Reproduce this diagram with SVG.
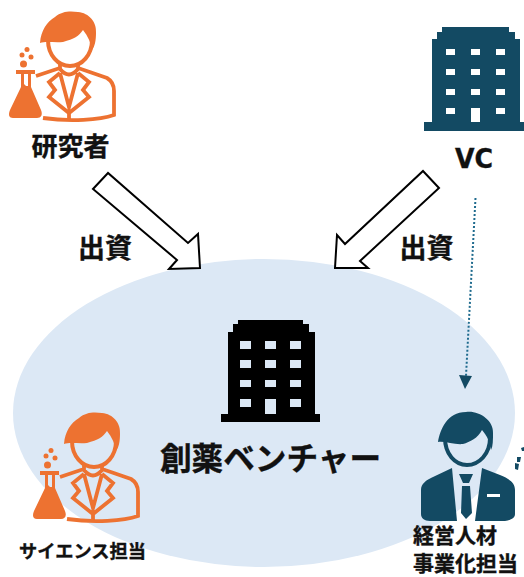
<svg xmlns="http://www.w3.org/2000/svg" width="524" height="577" viewBox="0 0 524 577">
<style>
text{font-family:"Noto Sans CJK JP","DejaVu Sans",sans-serif;font-weight:700;fill:#111;stroke:#111;stroke-width:.35}
.arrow{fill:#fff;stroke:#000;stroke-width:2;stroke-linejoin:miter}
.orange{color:#ed7231}
</style>
<defs>
<g id="sci">
<path fill="currentColor" d="M40 43C41 30 47 22 55 17C62 11 70 11 78 12C89 13 97 22 96 33C96 40 95 46 92 50C91 43 88 36 83 30C79 36 74 39 63 42C55 43 46 41 40 43Z"/>
<path fill="none" stroke="currentColor" stroke-width="4" d="M48 40C48 55 58 66 70 66C82 66 92 55 92 40"/>
<path fill="none" stroke="currentColor" stroke-width="3.800" stroke-linejoin="miter" stroke-linecap="butt" d="M36 76L60 68V63M78 63V68L107 78C112 81 114 85 114 91V115C100 120 70 122 43 118M60 69Q69 80 78 69M60 73L49 82L55 90L49 97L69 113L89 97L83 90L89 82L78 73M60 73L69 107L78 73M69 113V120"/>
<path fill="currentColor" fill-rule="evenodd" d="M16 70H35V74H31V87L41 110C43 115 41 118 37 118H13C9 118 8 115 10 110L21 87V74H16ZM24 74V84L26 86H28V74Z"/>
<circle fill="currentColor" cx="23.500" cy="64" r="3.500"/>
<circle fill="currentColor" cx="22" cy="55" r="2.500"/>
<circle fill="currentColor" cx="31" cy="57" r="2.500"/>
<circle fill="currentColor" cx="27" cy="49.500" r="2.500"/>
</g>
</defs>
<ellipse cx="264" cy="413" rx="251" ry="154" fill="#dce8f5"/>
<g id="researcher" class="orange"><use href="#sci"/><text x="70.500" y="156" font-size="26" text-anchor="middle">研究者</text></g>
<g id="vc"><path fill="#134a63" fill-rule="evenodd" d="M442 27H509V32H515V39H520V122H524V131H424V122H432V39H437V32H442ZM446 49V55H455V49ZM471 49V55H480V49ZM496 49V55H505V49ZM446 69V75H455V69ZM471 69V75H480V69ZM496 69V75H505V69ZM446 89V95H455V89ZM471 89V95H480V89ZM496 89V95H505V89ZM446 108V114H455V108ZM471 108V122H480V108ZM496 108V114H505V108Z"/><text x="474" y="168" font-size="26" text-anchor="middle" textLength="38" lengthAdjust="spacingAndGlyphs" style="font-family:'DejaVu Sans',sans-serif">VC</text></g>
<g id="venture"><path fill="#000" fill-rule="evenodd" d="M238 320H303V324H309V332H315V414H320V422H221V414H228V332H233V324H238ZM240 341V349H251V341ZM265 341V349H276V341ZM290 341V349H301V341ZM240 360V368H251V360ZM265 360V368H276V360ZM290 360V368H301V360ZM240 380V387H251V380ZM265 380V387H276V380ZM290 380V387H301V380ZM240 399V407H251V399ZM265 399V414H276V399ZM290 399V407H301V399Z"/><text x="160" y="470" font-size="32" textLength="221" lengthAdjust="spacingAndGlyphs">創薬ベンチャー</text></g>
<g id="science" class="orange"><use href="#sci" transform="translate(24 401)"/><text x="19" y="558" font-size="18" textLength="127" lengthAdjust="spacingAndGlyphs">サイエンス担当</text></g>
<g id="manager">
<path fill="#134a63" d="M438 442C440 430 447 412 466 412C478 410 494 420 493 433C493 440 493 446 491 450C490 442 487 436 482 430C478 438 470 442 463 444C455 445 445 441 438 442Z"/>
<path fill="none" stroke="#134a63" stroke-width="4" d="M445 438C445 454 455 465 467 465C479 465 490 454 490 438"/>
<path fill="#134a63" d="M452 468L457 521H430C424 521 421 518 421 514V490C421 484 426 480 433 477ZM482 468L475 521H505C511 520 515 518 515 514V490C515 483 510 479 500 475Z"/>
<path fill="#134a63" d="M459 474H473L469 483H463ZM462 486H470L472 513L466 519L461 513Z"/>
<rect x="487" y="494" width="13" height="3" fill="#fff"/>
<path fill="#134a63" d="M515 463L519 464L518 470L515 469ZM517 457L521 457L520 462L517 462ZM521 448L524 447V451L522 451Z"/>
<text x="413" y="543" font-size="21" textLength="84">経営人材</text><text x="413" y="571" font-size="21" textLength="105">事業化担当</text>
</g>
<g id="connectors">
<path class="arrow" d="M108 173L93 189L177 260L169 269L200 268L198 234L188 243Z"/>
<path class="arrow" d="M423 171L439 188L360 261L368 268L335 268L337 235L345 244Z"/>
<line x1="475.500" y1="198" x2="466" y2="376" stroke="#1f6b8e" stroke-width="2" stroke-dasharray="2 2"/>
<path d="M459 375L472 376L465 389Z" fill="#134a63"/>
<text x="105" y="258" font-size="27" text-anchor="middle">出資</text>
<text x="426.500" y="258" font-size="27" text-anchor="middle">出資</text>
</g>
</svg>
